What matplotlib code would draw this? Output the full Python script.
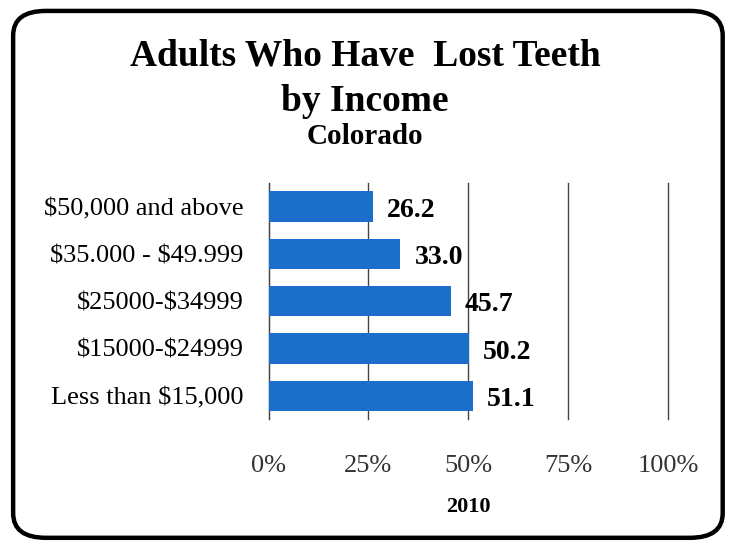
import matplotlib.pyplot as plt
from matplotlib.patches import FancyBboxPatch

incomes = ['$50,000 and above', '$35.000 - $49.999', '$25000-$34999',
           '$15000-$24999', 'Less than $15,000']
pct_lost = [26.2, 33.0, 45.7, 50.2, 51.1]
pct_labels = ['26.2', '33.0', '45.7', '50.2', '51.1']
x_ticks = [0, 25, 50, 75, 100]
x_ticklabels = ['0%', '25%', '50%', '75%', '100%']

plt.rcParams['font.family'] = ['Liberation Serif', 'DejaVu Serif']
plt.rcParams['text.parse_math'] = False

fig = plt.figure(figsize=(7.3, 5.46), dpi=100)

# rounded frame around the whole chart
frame = FancyBboxPatch((0.018, 0.015), 0.972, 0.965,
                       boxstyle='round,pad=0,rounding_size=0.045',
                       transform=fig.transFigure, fill=False,
                       edgecolor='black', linewidth=3.2)
fig.patches.append(frame)

fig.text(0.5, 0.898, 'Adults Who Have  Lost Teeth', ha='center', va='center',
         fontsize=27, fontweight='bold')
fig.text(0.5, 0.815, 'by Income', ha='center', va='center',
         fontsize=27, fontweight='bold')
fig.text(0.5, 0.75, 'Colorado', ha='center', va='center',
         fontsize=21, fontweight='bold')

ax = fig.add_axes([0.368, 0.232, 0.547, 0.433])
y_pos = list(range(len(incomes)))
ax.barh(y_pos, pct_lost, height=0.64, color='#1b6fcb', zorder=3)
ax.set_yticks(y_pos, labels=incomes)
ax.set_ylim(4.5, -0.5)
ax.set_xlim(0, 100)
ax.set_xticks(x_ticks, labels=x_ticklabels)
ax.tick_params(axis='both', length=0)
ax.tick_params(axis='x', pad=26, labelsize=19)
ax.tick_params(axis='y', pad=18, labelsize=19)
for t in ax.get_xticklabels():
    t.set_color('#333333')

ax.grid(axis='x', color='#444444', linewidth=1.0, zorder=0)
for line in ax.get_xgridlines():
    line.set_clip_on(False)
for side in ['top', 'right', 'bottom']:
    ax.spines[side].set_visible(False)
ax.spines['left'].set_color('#444444')

for y, v, s in zip(y_pos, pct_lost, pct_labels):
    ax.text(v + 3.5, y + 0.08, s, ha='left', va='center',
            fontsize=20, fontweight='bold', zorder=4)

ax.set_xlabel('2010', fontsize=16, fontweight='bold', labelpad=14)

fig.savefig('out.png', dpi=100)
